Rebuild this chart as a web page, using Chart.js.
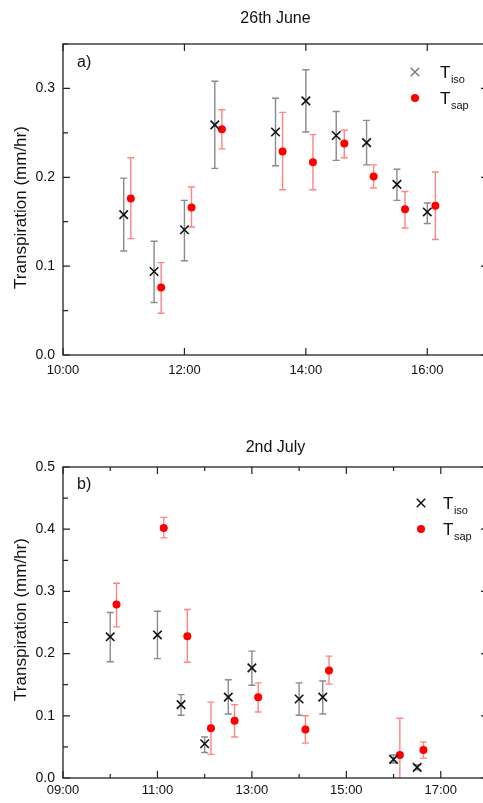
<!DOCTYPE html>
<html><head><meta charset="utf-8">
<script src="https://cdn.jsdelivr.net/npm/chart.js@4.4.0/dist/chart.umd.min.js"></script>
<style>
html,body{margin:0;padding:0;background:#fff;overflow:hidden;width:483px;height:803px;position:relative;}
#c1{position:absolute;left:0;top:0;}
#c2{position:absolute;left:0;top:420px;}
</style></head><body>
<canvas id="c1" width="500" height="400"></canvas>
<canvas id="c2" width="500" height="383"></canvas>
<script>
const FONT = "'Liberation Sans', Arial, Helvetica, sans-serif";

// ---------- Panel a) 26th June ----------
const juneIsoTimes = ['11:00','11:30','12:00','12:30','13:30','14:00','14:30','15:00','15:30','16:00'];
const juneIso      = [0.158, 0.094, 0.141, 0.259, 0.251, 0.286, 0.247, 0.239, 0.192, 0.161];
const juneIsoLo    = [0.117, 0.059, 0.106, 0.210, 0.213, 0.251, 0.219, 0.214, 0.174, 0.148];
const juneIsoHi    = [0.199, 0.128, 0.174, 0.308, 0.289, 0.321, 0.274, 0.264, 0.209, 0.171];
const juneSapTimes = ['11:07','11:37','12:07','12:37','13:37','14:07','14:38','15:07','15:38','16:08'];
const juneSap      = [0.176, 0.076, 0.166, 0.254, 0.229, 0.217, 0.238, 0.201, 0.164, 0.168];
const juneSapLo    = [0.131, 0.047, 0.144, 0.232, 0.186, 0.186, 0.222, 0.188, 0.143, 0.130];
const juneSapHi    = [0.222, 0.104, 0.189, 0.276, 0.273, 0.248, 0.253, 0.214, 0.184, 0.206];
const juneXTickMarks  = ['10:00','12:00','14:00','16:00'];
const juneXTickLabels = ['10:00','12:00','14:00','16:00'];

// ---------- Panel b) 2nd July ----------
const julyIsoTimes = ['10:00','11:00','11:30','12:00','12:30','13:00','14:00','14:30','16:00','16:30'];
const julyIso      = [0.227, 0.230, 0.118, 0.055, 0.130, 0.177, 0.127, 0.130, 0.030, 0.017];
const julyIsoLo    = [0.187, 0.192, 0.101, 0.041, 0.103, 0.149, 0.101, 0.103, 0.024, 0.013];
const julyIsoHi    = [0.266, 0.268, 0.134, 0.066, 0.158, 0.204, 0.153, 0.156, 0.037, 0.021];
const julySapTimes = ['10:08','11:08','11:38','12:08','12:38','13:08','14:08','14:38','16:08','16:38'];
const julySap      = [0.279, 0.402, 0.228, 0.080, 0.092, 0.130, 0.078, 0.173, 0.037, 0.045];
const julySapLo    = [0.243, 0.386, 0.186, 0.038, 0.066, 0.106, 0.056, 0.151, -0.030, 0.032];
const julySapHi    = [0.313, 0.419, 0.271, 0.122, 0.118, 0.153, 0.100, 0.196, 0.096, 0.058];
const julyXTickMarks  = ['09:00','10:00','11:00','12:00','13:00','14:00','15:00','16:00','17:00','18:00'];
const julyXTickLabels = ['09:00','11:00','13:00','15:00','17:00'];

const yAxisTitle = 'Transpiration (mm/hr)';

function toHours(s){ const [h,m] = s.split(':').map(Number); return h + m/60; }
function fmtHour(v){ const h = Math.floor(v+1e-9), m = Math.round((v-h)*60); return String(h).padStart(2,'0')+':'+String(m).padStart(2,'0'); }
function pts(times, vals){ return times.map((t,i)=>({x: toHours(t), y: vals[i]})); }

// error bars drawn from the data through the chart scales
const errorBarPlugin = {
  id: 'errorBars',
  beforeDatasetsDraw(chart){
    const {ctx, chartArea:a, scales:{x, y}} = chart;
    ctx.save();
    ctx.beginPath(); ctx.rect(a.left, a.top, a.right-a.left, a.bottom-a.top); ctx.clip();
    chart.data.datasets.forEach(ds => {
      if (!ds.errLo) return;
      ctx.strokeStyle = ds.errColor; ctx.lineWidth = 1.4;
      ds.data.forEach((p, j) => {
        const px = x.getPixelForValue(p.x);
        const yl = y.getPixelForValue(ds.errLo[j]);
        const yh = y.getPixelForValue(ds.errHi[j]);
        ctx.beginPath();
        ctx.moveTo(px, yl); ctx.lineTo(px, yh);
        ctx.moveTo(px-3.5, yl); ctx.lineTo(px+3.5, yl);
        ctx.moveTo(px-3.5, yh); ctx.lineTo(px+3.5, yh);
        ctx.stroke();
      });
    });
    ctx.restore();
  }
};

// frame, inward ticks, axis title, panel letter, legend
const decoPlugin = {
  id: 'panelDeco',
  afterDraw(chart){
    const o = chart.options.plugins.panelDeco;
    const {ctx, chartArea:a, scales:{x, y}} = chart;
    ctx.save();
    ctx.strokeStyle = '#222'; ctx.lineWidth = 1.3;
    ctx.strokeRect(a.left, a.top, a.right-a.left, a.bottom-a.top);
    ctx.lineWidth = 1.2;
    ctx.beginPath();
    x.ticks.forEach(t => {
      const px = x.getPixelForValue(t.value);
      const len = o.xLabels.includes(fmtHour(t.value)) ? 7 : 4;
      ctx.moveTo(px, a.bottom); ctx.lineTo(px, a.bottom-len);
      ctx.moveTo(px, a.top); ctx.lineTo(px, a.top+len);
    });
    y.ticks.forEach(t => {
      const py = y.getPixelForValue(t.value);
      const major = Math.round(t.value*100) % 10 === 0;
      const len = major ? 7 : 5;
      ctx.moveTo(a.left, py); ctx.lineTo(a.left+len, py);
      ctx.moveTo(a.right, py); ctx.lineTo(a.right-len, py);
    });
    ctx.stroke();

    // y axis title
    ctx.fillStyle = '#111';
    ctx.save();
    ctx.translate(21, (a.top + a.bottom)/2 + o.yTitleDy);
    ctx.rotate(-Math.PI/2);
    ctx.font = '17px ' + FONT;
    ctx.textAlign = 'center'; ctx.textBaseline = 'middle';
    ctx.fillText(yAxisTitle, 0, 0);
    ctx.restore();

    // panel letter
    ctx.font = '16px ' + FONT;
    ctx.textBaseline = 'alphabetic'; ctx.textAlign = 'left';
    ctx.fillText(o.letter, a.left + 14, a.top + o.letterDy);

    // legend
    const lg = o.legend;
    const mx = a.right + lg.x;
    const y1 = a.top + lg.y1, y2 = a.top + lg.y2;
    ctx.strokeStyle = lg.isoColor; ctx.lineWidth = 1.5;
    const r = 4.2;
    ctx.beginPath();
    ctx.moveTo(mx-r, y1-r); ctx.lineTo(mx+r, y1+r);
    ctx.moveTo(mx-r, y1+r); ctx.lineTo(mx+r, y1-r);
    ctx.stroke();
    ctx.fillStyle = '#ff0000';
    ctx.beginPath(); ctx.arc(mx, y2, 4, 0, Math.PI*2); ctx.fill();
    ctx.fillStyle = '#111';
    const tx = mx + lg.textDx;
    [[y1, chart.data.datasets[0].subLabel], [y2, chart.data.datasets[1].subLabel]].forEach(([yy, sub]) => {
      ctx.font = '17px ' + FONT;
      ctx.fillText('T', tx, yy + 6);
      const w = ctx.measureText('T').width;
      ctx.font = '11px ' + FONT;
      ctx.fillText(sub, tx + w + 0.5, yy + 11);
    });
    ctx.restore();
  }
};

function makeChart(id, cfg){
  return new Chart(document.getElementById(id), {
    type: 'scatter',
    data: {
      datasets: [
        { label: 'Tiso', subLabel: 'iso', data: pts(cfg.isoTimes, cfg.iso),
          errLo: cfg.isoLo, errHi: cfg.isoHi, errColor: '#8a8a8a',
          pointStyle: 'crossRot', radius: 6, borderColor: '#111', borderWidth: 1.6,
          backgroundColor: '#111', hoverRadius: 6 },
        { label: 'Tsap', subLabel: 'sap', data: pts(cfg.sapTimes, cfg.sap),
          errLo: cfg.sapLo, errHi: cfg.sapHi, errColor: '#ff8585',
          pointStyle: 'circle', radius: 4, borderWidth: 0, borderColor: '#ff0000',
          backgroundColor: '#ff0000', hoverRadius: 4 }
      ]
    },
    options: {
      responsive: false, animation: false, devicePixelRatio: 1,
      events: [],
      layout: { padding: { left: 0, right: 12, top: 0, bottom: 0 } },
      plugins: {
        legend: { display: false }, tooltip: { enabled: false },
        title: { display: true, text: cfg.title, fullSize: false, color: '#111',
                 font: { family: FONT, size: 16, weight: 'normal' },
                 padding: { top: cfg.titleTop, bottom: cfg.titleBottom } },
        panelDeco: { letter: cfg.letter, letterDy: cfg.letterDy, legend: cfg.legend,
                     xLabels: cfg.xLabels, yTitleDy: cfg.yTitleDy }
      },
      scales: {
        x: { type: 'linear', min: cfg.xMin, max: cfg.xMax,
             grid: { display: false, drawTicks: false }, border: { display: false },
             afterBuildTicks: s => { s.ticks = cfg.xMarks.map(t => ({ value: toHours(t) })); },
             afterFit: s => { s.height = cfg.xAxisH; },
             ticks: { autoSkip: false, maxRotation: 0, padding: cfg.xPad, color: '#111',
                      font: { family: FONT, size: 13 },
                      callback: v => cfg.xLabels.includes(fmtHour(v)) ? fmtHour(v) : '' } },
        y: { type: 'linear', min: 0, max: cfg.yMax,
             grid: { display: false, drawTicks: false }, border: { display: false },
             afterFit: s => { s.width = 63; },
             title: { display: false },
             ticks: { stepSize: 0.05, padding: 8, color: '#111', font: { family: FONT, size: 14 },
                      callback: v => Math.round(v*100) % 10 === 0 ? v.toFixed(1) : '' } }
      }
    },
    plugins: [errorBarPlugin, decoPlugin]
  });
}

makeChart('c1', {
  title: '26th June', titleTop: 8.5, titleBottom: 16.3,
  isoTimes: juneIsoTimes, iso: juneIso, isoLo: juneIsoLo, isoHi: juneIsoHi,
  sapTimes: juneSapTimes, sap: juneSap, sapLo: juneSapLo, sapHi: juneSapHi,
  xMin: 10, xMax: 17, xMarks: juneXTickMarks, xLabels: juneXTickLabels,
  xAxisH: 45, xPad: 8, yMax: 0.35, yTitleDy: 8,
  letter: 'a)', letterDy: 23,
  legend: { x: -73, y1: 28, y2: 54, textDx: 25, isoColor: '#7a7a7a' }
});
makeChart('c2', {
  title: '2nd July', titleTop: 17.5, titleBottom: 10.3,
  isoTimes: julyIsoTimes, iso: julyIso, isoLo: julyIsoLo, isoHi: julyIsoHi,
  sapTimes: julySapTimes, sap: julySap, sapLo: julySapLo, sapHi: julySapHi,
  xMin: 9, xMax: 18, xMarks: julyXTickMarks, xLabels: julyXTickLabels,
  xAxisH: 25, xPad: 5, yMax: 0.5, yTitleDy: -3,
  letter: 'b)', letterDy: 22,
  legend: { x: -67, y1: 36, y2: 62, textDx: 22, isoColor: '#111' }
});
</script>
</body></html>
